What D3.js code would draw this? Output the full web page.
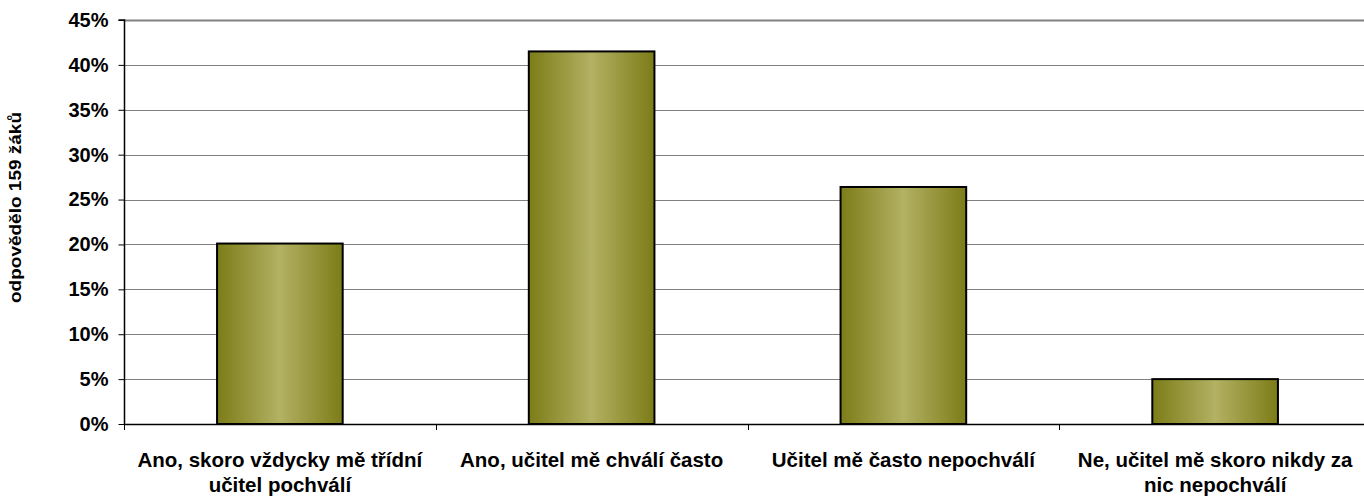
<!DOCTYPE html>
<html><head><meta charset="utf-8">
<script src="https://cdn.jsdelivr.net/npm/d3@7"></script>
<style>body{margin:0;background:#fff}svg{display:block}text{font-family:"Liberation Sans",Arial,sans-serif;font-weight:bold;fill:#000}</style>
</head><body><svg id="c" width="1364" height="496"></svg>
<script>
const categories = [
  ["Ano, skoro vždycky mě třídní", "učitel pochválí"],
  ["Ano, učitel mě chválí často"],
  ["Učitel mě často nepochválí"],
  ["Ne, učitel mě skoro nikdy za", "nic nepochválí"]
];
const values = [20.1, 41.5, 26.4, 5.0];
const yTicks = [0, 5, 10, 15, 20, 25, 30, 35, 40, 45];
const yTitle = "odpovědělo 159 žáků";

(function () {
const svg = d3.select("#c");
const pL = 124, pR = 1371, pT = 20, pB = 424;
const x = d3.scaleBand().domain(d3.range(categories.length)).range([pL, pR]).paddingInner(0.597).paddingOuter(0.2985);
const y = d3.scaleLinear().domain([0, 45]).range([pB, pT]);

const defs = svg.append("defs");
const g = defs.append("linearGradient").attr("id", "gr").attr("x1", "0").attr("x2", "1").attr("y1", "0").attr("y2", "0");
g.append("stop").attr("offset", "0").attr("stop-color", "#7c7c18");
g.append("stop").attr("offset", "0.5").attr("stop-color", "#b3b163");
g.append("stop").attr("offset", "1").attr("stop-color", "#7c7c18");

// gridlines
svg.append("g").selectAll("line").data(yTicks.filter(d => d > 0)).join("line")
  .attr("x1", pL).attr("x2", 1364).attr("y1", d => Math.round(y(d)) + 0.5).attr("y2", d => Math.round(y(d)) + 0.5)
  .attr("stroke", "#808080").attr("stroke-width", d => d === 45 ? 2 : 1);

// bars
svg.append("g").selectAll("rect").data(values).join("rect")
  .attr("x", (d, i) => x(i)).attr("width", x.bandwidth())
  .attr("y", d => y(d)).attr("height", d => y(0) - y(d))
  .attr("fill", "url(#gr)").attr("stroke", "#000").attr("stroke-width", 2);

// y axis
const yAxis = d3.axisLeft(y).tickValues(yTicks).tickFormat(d => d + "%").tickSize(6).tickPadding(10);
const ya = svg.append("g").attr("transform", `translate(${pL + 0.5},0)`).call(yAxis);
ya.select(".domain").attr("stroke", "#000").attr("stroke-width", 1.5).attr("d", `M-6,${pT}H0V${pB}`);
ya.selectAll(".tick line").attr("stroke", "#000");
ya.selectAll("text").style("font-size", "20px").style("font-family", '"Liberation Sans",Arial,sans-serif').style("font-weight", "bold").attr("fill", "#000");

// x axis baseline and ticks
svg.append("line").attr("x1", pL).attr("x2", 1364).attr("y1", pB + 0.5).attr("y2", pB + 0.5).attr("stroke", "#000").attr("stroke-width", 1.5);
const bounds = d3.range(categories.length + 1).map(i => pL + i * x.step());
svg.append("g").selectAll("line").data(bounds).join("line")
  .attr("x1", d => Math.round(d) + 0.5).attr("x2", d => Math.round(d) + 0.5)
  .attr("y1", pB).attr("y2", pB + 6).attr("stroke", "#000");

// x labels
const xl = svg.append("g").selectAll("text").data(categories).join("text")
  .attr("text-anchor", "middle").style("font-size", "20.5px")
  .attr("x", (d, i) => x(i) + x.bandwidth() / 2).attr("y", 467);
xl.selectAll("tspan").data(d => d).join("tspan")
  .attr("x", function () { return d3.select(this.parentNode).attr("x"); })
  .attr("dy", (d, i) => i === 0 ? 0 : 25).text(d => d);

// y title
svg.append("text").attr("transform", "translate(21,207.5) rotate(-90)").attr("text-anchor", "middle")
  .style("font-size", "17px").attr("textLength", 191).attr("lengthAdjust", "spacingAndGlyphs").text(yTitle);
})();
</script></body></html>
